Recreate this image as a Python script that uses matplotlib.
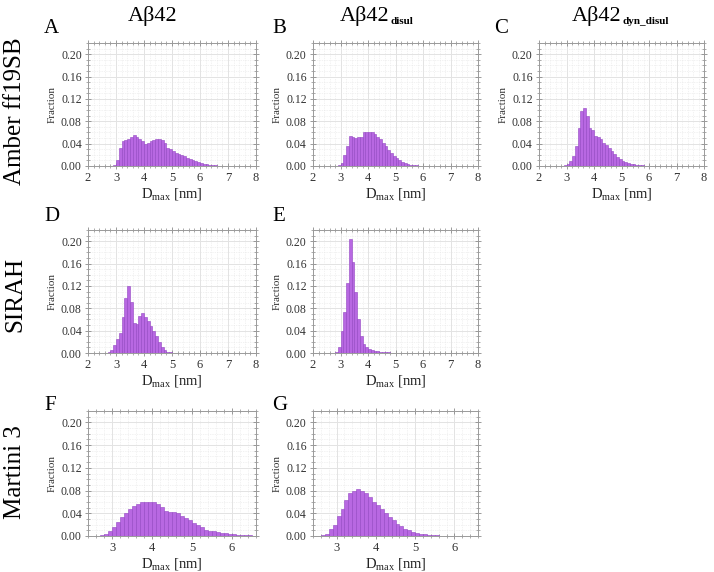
import numpy as np
import matplotlib
matplotlib.use("Agg")
import matplotlib.pyplot as plt
from matplotlib.ticker import MultipleLocator, FormatStrFormatter

plt.rcParams['font.family'] = ['Liberation Serif', 'DejaVu Serif']
plt.rcParams['mathtext.fontset'] = 'custom'
plt.rcParams['mathtext.rm'] = 'Liberation Serif'
plt.rcParams['mathtext.it'] = 'Liberation Serif:italic'
plt.rcParams['mathtext.bf'] = 'Liberation Serif:bold'

# ---- data: fraction per 0.1 nm bin; first bin left edge given ----
bin_width = 0.1

start_A = 2.9
frac_A = [0.002, 0.010, 0.033, 0.045, 0.047, 0.049, 0.051, 0.055, 0.052, 0.048,
          0.044, 0.040, 0.042, 0.045, 0.046, 0.048, 0.049, 0.047, 0.041, 0.033,
          0.030, 0.027, 0.024, 0.021, 0.019, 0.017, 0.015, 0.013, 0.011, 0.009,
          0.007, 0.005, 0.004, 0.003, 0.002, 0.0015, 0.001, 0.0005, 0.0003]

start_B = 2.9
frac_B = [0.002, 0.006, 0.019, 0.036, 0.054, 0.051, 0.050, 0.051, 0.052, 0.060,
          0.061, 0.061, 0.060, 0.057, 0.052, 0.048, 0.042, 0.035, 0.029, 0.023,
          0.018, 0.014, 0.010, 0.007, 0.005, 0.003, 0.002, 0.0015, 0.001, 0.0006,
          0.0003, 0.0002]

start_C = 2.9
frac_C = [0.002, 0.004, 0.009, 0.017, 0.036, 0.068, 0.098, 0.104, 0.090, 0.068,
          0.064, 0.054, 0.052, 0.048, 0.042, 0.038, 0.032, 0.026, 0.021, 0.016,
          0.012, 0.009, 0.0065, 0.005, 0.004, 0.003, 0.002, 0.0015, 0.001, 0.0007,
          0.0005, 0.0003, 0.0002]

start_D = 2.7
frac_D = [0.001, 0.006, 0.014, 0.025, 0.036, 0.064, 0.099, 0.119, 0.091, 0.054,
          0.052, 0.066, 0.072, 0.064, 0.057, 0.048, 0.039, 0.030, 0.020, 0.011,
          0.005, 0.002, 0.001, 0.0005]

start_E = 2.8
frac_E = [0.002, 0.010, 0.039, 0.074, 0.125, 0.204, 0.163, 0.110, 0.060, 0.031,
          0.016, 0.010, 0.007, 0.005, 0.004, 0.003, 0.0025, 0.002, 0.0015, 0.001,
          0.0007]

start_F = 2.7
frac_F = [0.001, 0.004, 0.009, 0.016, 0.025, 0.034, 0.041, 0.047, 0.052, 0.057,
          0.059, 0.060, 0.060, 0.059, 0.057, 0.051, 0.044, 0.043, 0.042, 0.040,
          0.035, 0.031, 0.029, 0.023, 0.019, 0.015, 0.011, 0.009, 0.008, 0.007,
          0.006, 0.005, 0.004, 0.003, 0.0025, 0.002, 0.0015, 0.001, 0.0007]

start_G = 2.6
frac_G = [0.001, 0.004, 0.012, 0.020, 0.035, 0.048, 0.063, 0.075, 0.079, 0.082,
          0.080, 0.075, 0.068, 0.060, 0.054, 0.047, 0.040, 0.033, 0.028, 0.022,
          0.018, 0.013, 0.010, 0.007, 0.005, 0.004, 0.003, 0.002, 0.0015, 0.001,
          0.0008, 0.0005]

panels = {
    'A': (start_A, frac_A), 'B': (start_B, frac_B), 'C': (start_C, frac_C),
    'D': (start_D, frac_D), 'E': (start_E, frac_E),
    'F': (start_F, frac_F), 'G': (start_G, frac_G),
}

col_title_main = ['Aβ42', 'Aβ42', 'Aβ42']
col_title_sub = ['', 'disul', 'dyn_disul']
row_titles = ['Amber ff19SB', 'SIRAH', 'Martini 3']
y_ticks = [0.00, 0.04, 0.08, 0.12, 0.16, 0.20]
x_ticks_wide = [2, 3, 4, 5, 6, 7, 8]
x_ticks_narrow = [3, 4, 5, 6]

# ---- layout ----
W, H = 714, 572
fig = plt.figure(figsize=(W / 100, H / 100), dpi=100)

col_left = [88, 313, 539]
col_w = [168, 165, 165]
row_top = [43, 230, 411]
row_bot = [166, 353, 536]

layout = {'A': (0, 0), 'B': (0, 1), 'C': (0, 2),
          'D': (1, 0), 'E': (1, 1),
          'F': (2, 0), 'G': (2, 1)}

bar_face = '#b868e2'
bar_edge = '#9245c2'

for name, (r, c) in layout.items():
    l = col_left[c] / W
    b = 1 - row_bot[r] / H
    w = col_w[c] / W
    h = (row_bot[r] - row_top[r]) / H
    ax = fig.add_axes([l, b, w, h])
    start, vals = panels[name]
    edges = start + bin_width * np.arange(len(vals))
    ax.bar(edges, vals, width=bin_width, align='edge', color=bar_face,
           edgecolor=bar_edge, linewidth=0.4, zorder=3)
    ax.set_ylim(0, 0.22)
    if r < 2:
        ax.set_xlim(2, 8)
        ax.set_xticks(x_ticks_wide)
    else:
        ax.set_xlim(2.4, 6.6)
        ax.set_xticks(x_ticks_narrow)
    ax.set_yticks(y_ticks)
    ax.yaxis.set_major_formatter(FormatStrFormatter('%.2f'))
    ax.xaxis.set_minor_locator(MultipleLocator(0.2))
    ax.yaxis.set_minor_locator(MultipleLocator(0.01))
    ax.grid(which='major', color='#e3e3e3', linewidth=0.7, zorder=0)
    ax.grid(which='minor', color='#e6e6e6', linewidth=0.5, linestyle=(0, (1, 1.5)), zorder=0)
    ax.set_axisbelow(True)
    ax.tick_params(which='both', direction='inout', top=True, right=True,
                   color='#8a8a8a', labelcolor='#333333', pad=2)
    ax.tick_params(axis='y', labelsize=8.5)
    ax.tick_params(axis='x', labelsize=9)
    ax.tick_params(which='major', length=5, width=0.6)
    ax.tick_params(which='minor', length=3, width=0.5)
    for s in ax.spines.values():
        s.set_color('#9a9a9a')
        s.set_linewidth(0.7)
    ax.set_xlabel(r'D$_{\mathrm{max}}$ [nm]', fontsize=10.5, labelpad=1, color='#222222')
    ax.set_ylabel('Fraction', fontsize=8, labelpad=3, color='#333333')

# panel letters
letter_pos = {'A': (44, 33), 'B': (272, 33), 'C': (494, 33),
              'D': (44, 221), 'E': (272, 221),
              'F': (44, 410), 'G': (272, 410)}
for name, (x, y) in letter_pos.items():
    fig.text(x / W, 1 - y / H, name, fontsize=15, ha='left', va='baseline')

# column titles (main text + small bold subscript)
renderer = fig.canvas.get_renderer()
for main, sub, xl in zip(col_title_main, col_title_sub, [128, 340, 572]):
    t = fig.text(xl / W, 1 - 21 / H, main, fontsize=16, ha='left', va='baseline')
    if sub:
        bb = t.get_window_extent(renderer=renderer)
        fig.text((bb.x1 + 1) / W, 1 - 24 / H, sub, fontsize=8, fontweight='bold',
                 ha='left', va='baseline')

# row titles
for t, yc in zip(row_titles, [111, 294, 472]):
    fig.text(15 / W, 1 - yc / H, t, fontsize=18, rotation=90, ha='center', va='center')

fig.savefig('out.png', dpi=100)
